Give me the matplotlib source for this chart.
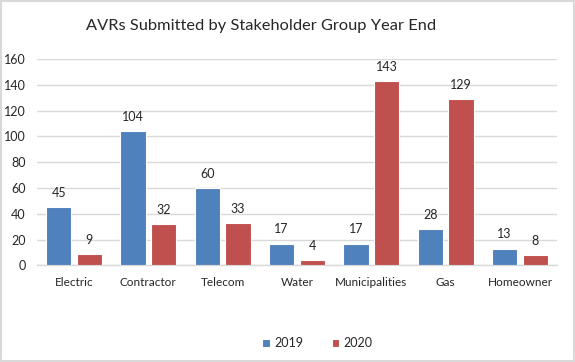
import matplotlib
matplotlib.use("Agg")
import matplotlib.pyplot as plt
import numpy as np
from matplotlib.patches import Rectangle

categories = ["Electric", "Contractor", "Telecom", "Water", "Municipalities", "Gas", "Homeowner"]
values_2019 = [45, 104, 60, 17, 17, 28, 13]
values_2020 = [9, 32, 33, 4, 143, 129, 8]
series_names = ["2019", "2020"]
yticks = [0, 20, 40, 60, 80, 100, 120, 140, 160]

plt.rcParams['font.family'] = ['Lato', 'DejaVu Sans']

fig = plt.figure(figsize=(5.75, 3.62), dpi=100)
ax = fig.add_axes([0.064, 0.2666, 0.905, 0.5704])

blue = "#4F81BD"
red = "#C0504D"
x = np.arange(len(categories))
w = 0.34
off = 0.206
b1 = ax.bar(x - off, values_2019, w, color=blue, edgecolor="white", linewidth=0.8, label=series_names[0], zorder=3)
b2 = ax.bar(x + off, values_2020, w, color=red, edgecolor="white", linewidth=0.8, label=series_names[1], zorder=3)

for bars, vals in ((b1, values_2019), (b2, values_2020)):
    for r, v in zip(bars, vals):
        ax.annotate(str(v), (r.get_x() + r.get_width() / 2, v), xytext=(0, 6),
                    textcoords="offset points", ha="center", va="bottom",
                    fontsize=9, color="#262626")

ax.set_xlim(-0.5, len(categories) - 0.5)
ax.set_ylim(0, 160)
ax.set_yticks(yticks)
ax.set_yticklabels([str(t) for t in yticks], fontsize=9, color="#262626")
ax.set_xticks(x)
ax.set_xticklabels(categories, fontsize=8.5, color="#262626")
ax.tick_params(axis="both", length=0)
ax.tick_params(axis="x", pad=8)
ax.tick_params(axis="y", pad=8)
ax.grid(axis="y", color="#D9D9D9", linewidth=1, zorder=0)
for s in ["top", "right", "left"]:
    ax.spines[s].set_visible(False)
ax.spines["bottom"].set_color("#D9D9D9")
ax.spines["bottom"].set_linewidth(1)

fig.text(0.454, 0.928, "AVRs Submitted by Stakeholder Group Year End", ha="center", va="center",
         fontsize=11.8, color="#262626")

leg = fig.legend(handles=[b1, b2], labels=series_names, loc="center", bbox_to_anchor=(0.552, 0.052),
                 ncol=2, frameon=False, fontsize=9, handlelength=0.6, handleheight=0.6,
                 columnspacing=2.3, handletextpad=0.35)
for t in leg.get_texts():
    t.set_color("#262626")

fig.patches.append(Rectangle((0.002, 0.003), 0.996, 0.994, transform=fig.transFigure,
                             fill=False, edgecolor="#D9D9D9", linewidth=1.5))

fig.savefig("out.png", dpi=100, facecolor="white")
